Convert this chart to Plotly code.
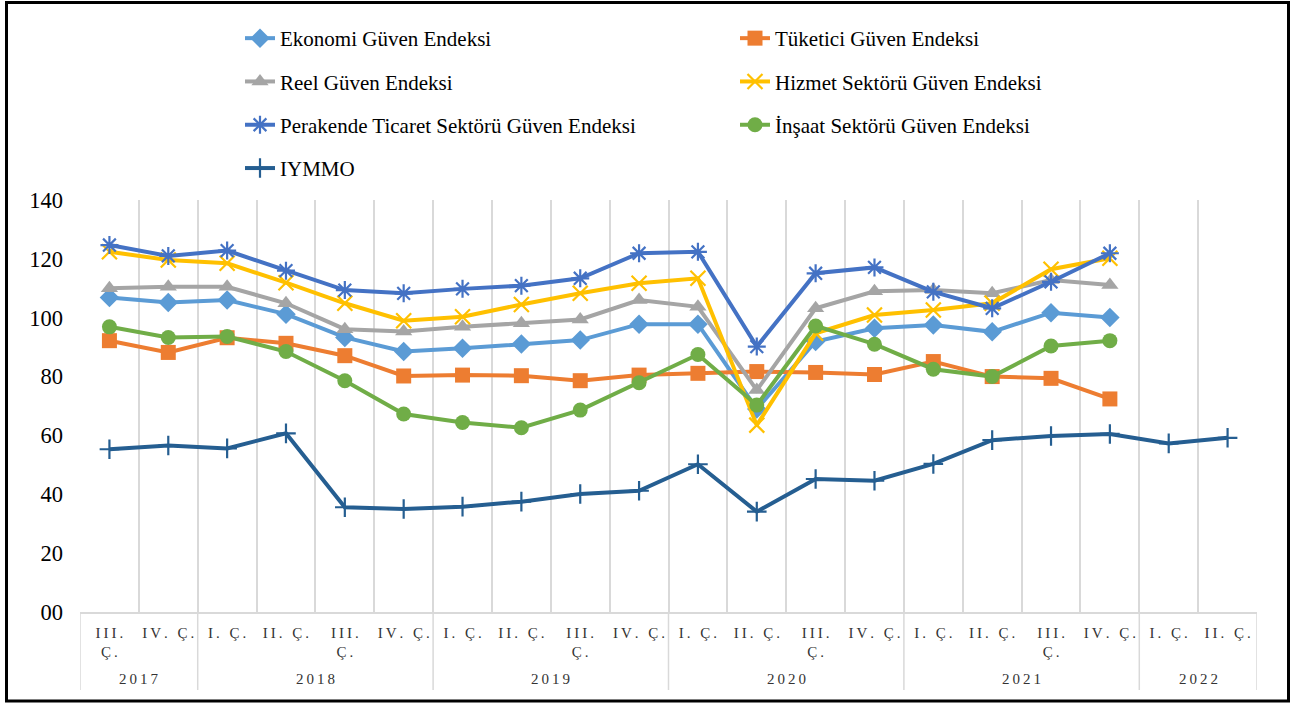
import plotly.graph_objects as go

# ---- data ----
years = ["2017", "2017",
         "2018", "2018", "2018", "2018",
         "2019", "2019", "2019", "2019",
         "2020", "2020", "2020", "2020",
         "2021", "2021", "2021", "2021",
         "2022", "2022"]
quarters = ["III.<br>Ç.", "IV. Ç.",
            "I. Ç.", "II. Ç.", "III.<br>Ç.", "IV. Ç.",
            "I. Ç.", "II. Ç.", "III.<br>Ç.", "IV. Ç.",
            "I. Ç.", "II. Ç.", "III.<br>Ç.", "IV. Ç.",
            "I. Ç.", "II. Ç.", "III.<br>Ç.", "IV. Ç.",
            "I. Ç.", "II. Ç."]

ekonomi = [106.9, 105.2, 106.0, 101.2, 93.3, 88.5, 89.6, 91.1, 92.4, 97.8,
           97.8, 69.0, 91.9, 96.4, 97.5, 95.2, 101.7, 100.1, None, None]
tuketici = [92.2, 88.2, 93.2, 91.3, 87.1, 80.2, 80.5, 80.3, 78.6, 80.5,
            81.1, 81.7, 81.4, 80.7, 85.1, 80.0, 79.4, 72.4, None, None]
reel = [110.0, 110.5, 110.5, 104.9, 96.1, 95.3, 96.9, 98.1, 99.4, 106.0,
        103.7, 75.4, 103.2, 109.0, 109.4, 108.3, 112.8, 111.1, None, None]
hizmet = [122.4, 119.6, 118.5, 111.9, 104.9, 99.0, 100.3, 104.5, 108.3, 111.7,
          113.4, 63.5, 94.7, 100.9, 102.6, 104.9, 116.5, 120.2, None, None]
perakende = [124.7, 121.0, 122.8, 116.0, 109.4, 108.3, 109.8, 110.9, 113.4, 121.9,
             122.4, 90.2, 115.1, 117.1, 108.8, 103.2, 112.2, 121.9, None, None]
insaat = [96.9, 93.3, 93.6, 88.5, 78.6, 67.3, 64.4, 62.6, 68.6, 77.9,
          87.5, 70.3, 97.2, 91.0, 82.5, 80.0, 90.4, 92.2, None, None]
iymmo = [55.3, 56.6, 55.6, 60.7, 35.6, 35.0, 35.8, 37.5, 40.1, 41.2,
         50.2, 34.1, 45.2, 44.6, 50.3, 58.4, 59.8, 60.5, 57.3, 59.2]

y_tickvals = [0, 20, 40, 60, 80, 100, 120, 140]
y_ticktext = ["00", "20", "40", "60", "80", "100", "120", "140"]

series = [
    ("Ekonomi Güven Endeksi", ekonomi, "#5B9BD5", "diamond", "legend"),
    ("Tüketici Güven Endeksi", tuketici, "#ED7D31", "square", "legend2"),
    ("Reel Güven Endeksi", reel, "#A5A5A5", "triangle-up", "legend"),
    ("Hizmet Sektörü Güven Endeksi", hizmet, "#FFC000", "x-thin-open", "legend2"),
    ("Perakende Ticaret Sektörü Güven Endeksi", perakende, "#4472C4", "asterisk-open", "legend"),
    ("İnşaat Sektörü Güven Endeksi", insaat, "#70AD47", "circle", "legend2"),
    ("IYMMO", iymmo, "#255E91", "cross-thin-open", "legend"),
]

FONT = "Liberation Serif"
GRID = "#D9D9D9"


def spaced(label):
    # mimic the letter spacing of the original labels
    return "<br>".join("\u2009".join(part) for part in label.split("<br>"))


idx = list(range(len(quarters)))
boundaries = [i - 0.5 for i in range(len(quarters) + 1)]

# year groups
groups = []
start = 0
for i in range(1, len(years) + 1):
    if i == len(years) or years[i] != years[start]:
        groups.append((years[start], start, i - 1))
        start = i

W, H = 1304, 704
L, T = 80, 200
R = W - 1257
B = H - 612
PW, PH = W - L - R, H - T - B


def px_x(p):
    return (p - L) / PW


def px_y(p):
    return (H - B - p) / PH


fig = go.Figure()
for name, vals, color, sym, leg in series:
    thin = sym.endswith("-open")
    fig.add_trace(go.Scatter(
        x=idx,
        y=vals,
        name=name,
        mode="lines+markers",
        line=dict(color=color, width=4),
        marker=dict(symbol=sym, color=color,
                    size=15 if sym != "cross-thin-open" else 14,
                    line=dict(color=color, width=2.2 if thin else 0)),
        legend=leg,
        legendgroup=name,
        connectgaps=False,
    ))

shapes = []
# year dividers below the axis
div_pos = [-0.5] + [g[2] + 0.5 for g in groups]
for xv in div_pos:
    shapes.append(dict(type="line", xref="x", yref="paper",
                       x0=xv, x1=xv, y0=0, y1=px_y(690),
                       line=dict(color=GRID, width=1.5), layer="below"))
# outer frame
shapes.append(dict(
    type="rect", xref="paper", yref="paper",
    x0=px_x(6.5), x1=px_x(1288.5), y0=px_y(701), y1=px_y(2.5),
    line=dict(color="black", width=3), fillcolor="rgba(0,0,0,0)",
    layer="above",
))

annotations = []
for yr, a, b in groups:
    annotations.append(dict(
        x=(a + b) / 2, y=px_y(679), xref="x", yref="paper",
        text=spaced(yr), showarrow=False, xanchor="center", yanchor="middle",
        font=dict(family=FONT, size=15, color="#333333"),
    ))

fig.update_layout(
    width=W, height=H,
    margin=dict(l=L, r=R, t=T, b=B, autoexpand=False),
    paper_bgcolor="white", plot_bgcolor="white",
    font=dict(family=FONT, color="black"),
    legend=dict(
        x=px_x(240), y=px_y(18), xanchor="left", yanchor="top",
        orientation="v", font=dict(family=FONT, size=21, color="black"),
        tracegroupgap=13, bgcolor="rgba(0,0,0,0)",
    ),
    legend2=dict(
        x=px_x(735), y=px_y(18), xanchor="left", yanchor="top",
        orientation="v", font=dict(family=FONT, size=21, color="black"),
        tracegroupgap=13, bgcolor="rgba(0,0,0,0)",
    ),
    xaxis=dict(
        range=[-0.5, len(quarters) - 0.5],
        tickmode="array", tickvals=idx, ticktext=[spaced(q) for q in quarters],
        tickangle=0, automargin=False,
        showgrid=False,
        minor=dict(tickmode="array", tickvals=boundaries, showgrid=True,
                   gridcolor=GRID, gridwidth=1.5, ticks=""),
        showline=True, linecolor=GRID, linewidth=1.5,
        tickfont=dict(family=FONT, size=15, color="#333333"),
        ticks="", zeroline=False, ticklabelstandoff=6,
    ),
    yaxis=dict(
        range=[0, 140], tickvals=y_tickvals, ticktext=y_ticktext,
        showgrid=False, zeroline=False, showline=False, automargin=False,
        tickfont=dict(family=FONT, size=22.5, color="black"),
        ticks="", ticklabelstandoff=16,
    ),
    shapes=shapes,
    annotations=annotations,
)

fig.write_html(
    "out.html",
    config={"displayModeBar": False},
    post_script="document.body.style.margin='0';document.body.style.overflow='hidden';",
)
